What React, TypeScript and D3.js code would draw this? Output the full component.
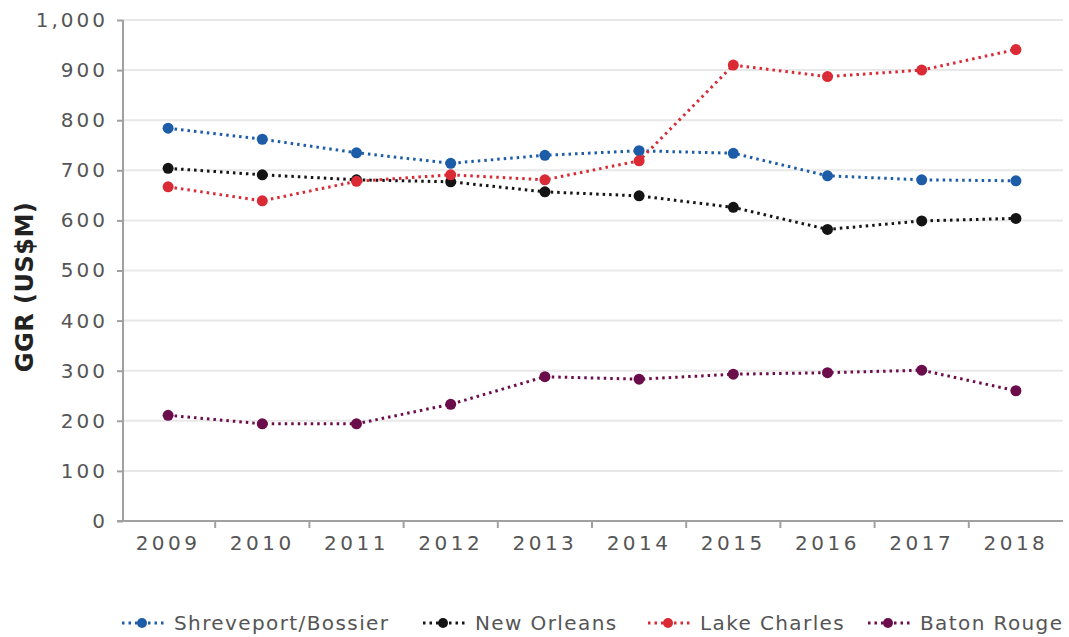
import { useEffect, useRef } from "react";
import * as d3 from "d3";

const years = ["2009", "2010", "2011", "2012", "2013", "2014", "2015", "2016", "2017", "2018"];
const shreveport = [784, 762, 735, 714, 730, 739, 734, 689, 681, 679];
const newOrleans = [704, 691, 681, 677, 657, 649, 626, 582, 599, 604];
const lakeCharles = [667, 639, 678, 691, 681, 719, 910, 887, 900, 941];
const batonRouge = [211, 194, 194, 233, 288, 283, 293, 296, 301, 260];
const seriesNames = ["Shreveport/Bossier", "New Orleans", "Lake Charles", "Baton Rouge"];
const yTicks = [0, 100, 200, 300, 400, 500, 600, 700, 800, 900, 1000];

const colors = ["#1d5da8", "#141414", "#d92a35", "#6b0d4b"];
const legendX = [122, 423, 648, 868];

const App = () => {
  const width = 1069;
  const height = 637;
  const marginLeft = 123;
  const marginRight = 6;
  const marginTop = 20;
  const marginBottom = 116;

  const gx = useRef<SVGGElement>(null);
  const gy = useRef<SVGGElement>(null);

  const x = d3.scaleBand().domain(years).range([marginLeft - 2, width - marginRight]);
  const y = d3.scaleLinear().domain([0, 1000]).range([height - marginBottom, marginTop]);
  const line = d3
    .line<number>()
    .x((d, i) => (x(years[i]) as number) + x.bandwidth() / 2)
    .y((d) => y(d));

  const series = [shreveport, newOrleans, lakeCharles, batonRouge];

  useEffect(() => {
    const ax = d3.select(gx.current!);
    ax.selectAll("*").remove();
    ax.call(d3.axisBottom(x).tickSize(0).tickPadding(15));
    ax.select(".domain").attr("stroke", "#a0a0a0").attr("stroke-width", 2).attr("d", `M${marginLeft - 6},0H${width - marginRight}`);
    ax.selectAll(".tick text")
      .attr("fill", "#555")
      .attr("font-size", 20)
      .attr("letter-spacing", 3.5)
      .attr("font-family", "DejaVu Sans, sans-serif");
    // little ticks between categories
    ax.selectAll(".sep")
      .data(years.slice(1))
      .join("line")
      .attr("class", "sep")
      .attr("x1", (d) => x(d) as number)
      .attr("x2", (d) => x(d) as number)
      .attr("y1", 0)
      .attr("y2", 7)
      .attr("stroke", "#a0a0a0")
      .attr("stroke-width", 2);
  }, []);

  useEffect(() => {
    const ay = d3.select(gy.current!);
    ay.selectAll("*").remove();
    ay.call(
      d3.axisLeft(y).tickValues(yTicks).tickSize(6).tickPadding(9).tickFormat(d3.format(","))
    );
    ay.select(".domain").attr("stroke", "#a0a0a0").attr("stroke-width", 2).attr("d", `M0,${marginTop}V${height - marginBottom}`);
    ay.selectAll(".tick line").attr("stroke", "#a0a0a0").attr("stroke-width", 2);
    ay.selectAll(".tick text")
      .attr("fill", "#555")
      .attr("font-size", 20)
      .attr("letter-spacing", 3)
      .attr("font-family", "DejaVu Sans, sans-serif");
  }, []);

  return (
    <svg
      width={width}
      height={height}
      style={{ position: "absolute", left: 0, top: 0, background: "#fff" }}
    >
      <g>
        {yTicks.slice(1).map((t) => (
          <line key={t} x1={marginLeft} x2={width - marginRight} y1={y(t)} y2={y(t)} stroke="#e8e8e8" strokeWidth={2} />
        ))}
      </g>
      <g ref={gy} transform={`translate(${marginLeft},0)`} />
      <g ref={gx} transform={`translate(0,${height - marginBottom})`} />
      <text
        transform={`translate(33,287) rotate(-90)`}
        textAnchor="middle"
        fontFamily="DejaVu Sans, sans-serif"
        fontWeight="bold"
        fontSize={24}
        letterSpacing={0.5}
        fill="#222"
      >
        GGR (US$M)
      </text>
      {series.map((s, si) => (
        <g key={si}>
          <path d={line(s)!} fill="none" stroke={colors[si]} strokeWidth={3} strokeDasharray="2.5 4" />
          {s.map((v, i) => (
            <circle key={i} cx={(x(years[i]) as number) + x.bandwidth() / 2} cy={y(v)} r={5.5} fill={colors[si]} />
          ))}
        </g>
      ))}
      <g fontFamily="DejaVu Sans, sans-serif" fontSize={20} fill="#555">
        {seriesNames.map((name, i) => (
          <g key={name} transform={`translate(${legendX[i]},623)`}>
            <line x1={0} x2={42} y1={0} y2={0} stroke={colors[i]} strokeWidth={3} strokeDasharray="2.5 4" />
            <circle cx={20} cy={0} r={5} fill={colors[i]} />
            <text x={52} y={7} letterSpacing={1.4}>
              {name}
            </text>
          </g>
        ))}
      </g>
    </svg>
  );
};

export default App;
